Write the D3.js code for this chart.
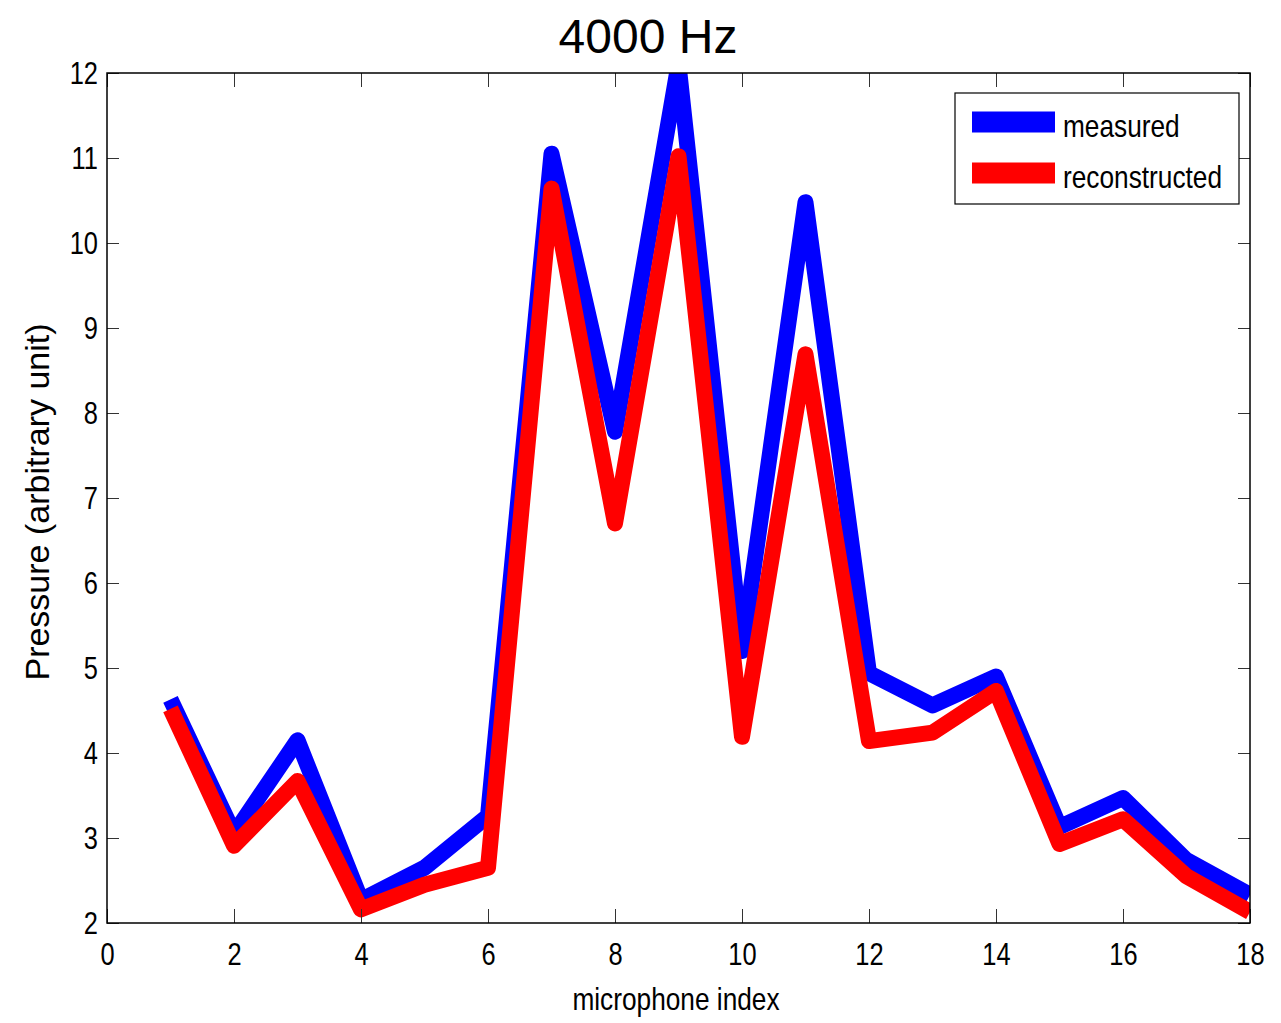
<!DOCTYPE html>
<html>
<head>
<meta charset="utf-8">
<script src="https://cdn.jsdelivr.net/npm/d3@7"></script>
<style>
  html, body { margin: 0; padding: 0; background: #fff; }
  svg { display: block; }
  text { font-family: "Liberation Sans", Arial, Helvetica, sans-serif; }
</style>
</head>
<body>
<script>
// Microphone pressure at 4000 Hz: measured vs. reconstructed
const microphones = [1, 2, 3, 4, 5, 6, 7, 8, 9, 10, 11, 12, 13, 14, 15, 16, 17, 18];
const measured = [4.63, 3.05, 4.15, 2.27, 2.65, 3.26, 11.05, 7.78, 12.1, 5.2, 10.48, 4.94, 4.56, 4.9, 3.13, 3.47, 2.74, 2.33];
const reconstructed = [4.52, 2.91, 3.67, 2.16, 2.45, 2.65, 10.64, 6.7, 11.02, 4.19, 8.69, 4.14, 4.24, 4.73, 2.93, 3.22, 2.55, 2.13];
const xTicks = [0, 2, 4, 6, 8, 10, 12, 14, 16, 18];
const yTicks = [2, 3, 4, 5, 6, 7, 8, 9, 10, 11, 12];
const seriesNames = ["measured", "reconstructed"];
const seriesColors = ["#0000ff", "#ff0000"];

const W = 1281, H = 1023;
const plot = { left: 107, top: 73, right: 1250, bottom: 923 };
const NARROW = 0.82; // condensed face for tick and legend text

const svg = d3.select("body").append("svg")
  .attr("width", W).attr("height", H);
svg.append("rect").attr("width", W).attr("height", H).attr("fill", "#fff");

// squeeze a text element horizontally to a condensed width
function condense(sel) {
  sel.each(function () {
    const w = this.getComputedTextLength();
    d3.select(this).attr("textLength", w * NARROW).attr("lengthAdjust", "spacingAndGlyphs");
  });
}

const x = d3.scaleLinear().domain([0, 18]).range([plot.left, plot.right]);
const y = d3.scaleLinear().domain([2, 12]).range([plot.bottom, plot.top]);

svg.append("defs").append("clipPath").attr("id", "plot-clip")
  .append("rect")
  .attr("x", plot.left).attr("y", plot.top)
  .attr("width", plot.right - plot.left).attr("height", plot.bottom - plot.top);

// data lines
const line = d3.line().x((d, i) => x(microphones[i])).y(d => y(d));
const lines = svg.append("g").attr("clip-path", "url(#plot-clip)");
[measured, reconstructed].forEach((vals, k) => {
  lines.append("path")
    .attr("d", line(vals))
    .attr("fill", "none")
    .attr("stroke", seriesColors[k])
    .attr("stroke-width", 16)
    .attr("stroke-linejoin", "round")
    .attr("stroke-linecap", "butt");
});

// axes with inward ticks on all four sides
const tickStyle = g => {
  g.select(".domain").remove();
  g.selectAll(".tick line").attr("stroke", "#333").attr("stroke-width", 1);
};
const xTickLen = 14, yTickLen = 12;

svg.append("g")
  .attr("transform", `translate(0,${plot.bottom})`)
  .call(d3.axisBottom(x).tickValues(xTicks).tickSize(-xTickLen).tickFormat(d3.format("d")))
  .call(tickStyle)
  .call(g => g.selectAll(".tick text")
    .attr("font-size", 31).attr("fill", "#000").attr("dy", "0.71em")
    .attr("y", 20).call(condense));

svg.append("g")
  .attr("transform", `translate(0,${plot.top})`)
  .call(d3.axisTop(x).tickValues(xTicks).tickSize(-xTickLen).tickFormat(""))
  .call(tickStyle);

svg.append("g")
  .attr("transform", `translate(${plot.left},0)`)
  .call(d3.axisLeft(y).tickValues(yTicks).tickSize(-yTickLen).tickFormat(d3.format("d")))
  .call(tickStyle)
  .call(g => g.selectAll(".tick text")
    .attr("font-size", 31).attr("fill", "#000")
    .attr("x", -9).attr("dy", "0.35em").call(condense));

svg.append("g")
  .attr("transform", `translate(${plot.right},0)`)
  .call(d3.axisRight(y).tickValues(yTicks).tickSize(-yTickLen).tickFormat(""))
  .call(tickStyle);

// axes box
svg.append("rect")
  .attr("x", plot.left).attr("y", plot.top)
  .attr("width", plot.right - plot.left).attr("height", plot.bottom - plot.top)
  .attr("fill", "none").attr("stroke", "#000").attr("stroke-width", 1.5);

// title and axis labels
svg.append("text")
  .attr("x", 648).attr("y", 53)
  .attr("text-anchor", "middle").attr("font-size", 48).attr("fill", "#000")
  .text("4000 Hz");

svg.append("text")
  .attr("x", 676).attr("y", 1010)
  .attr("text-anchor", "middle").attr("font-size", 32).attr("fill", "#000")
  .text("microphone index")
  .call(condense);

svg.append("text")
  .attr("transform", `translate(49,${502}) rotate(-90)`)
  .attr("text-anchor", "middle").attr("font-size", 34).attr("fill", "#000")
  .text("Pressure (arbitrary unit)");

// legend
const legend = svg.append("g").attr("transform", "translate(955,93)");
legend.append("rect")
  .attr("width", 284).attr("height", 111)
  .attr("fill", "#fff").attr("stroke", "#000").attr("stroke-width", 1.2);
seriesNames.forEach((name, i) => {
  const cy = 29 + i * 51;
  legend.append("rect")
    .attr("x", 17).attr("y", cy - 10.5).attr("width", 83).attr("height", 21)
    .attr("fill", seriesColors[i]);
  legend.append("text")
    .attr("x", 108).attr("y", cy + 3).attr("dy", "0.36em")
    .attr("font-size", 32).attr("fill", "#000")
    .text(name)
    .call(condense);
});
</script>
</body>
</html>
